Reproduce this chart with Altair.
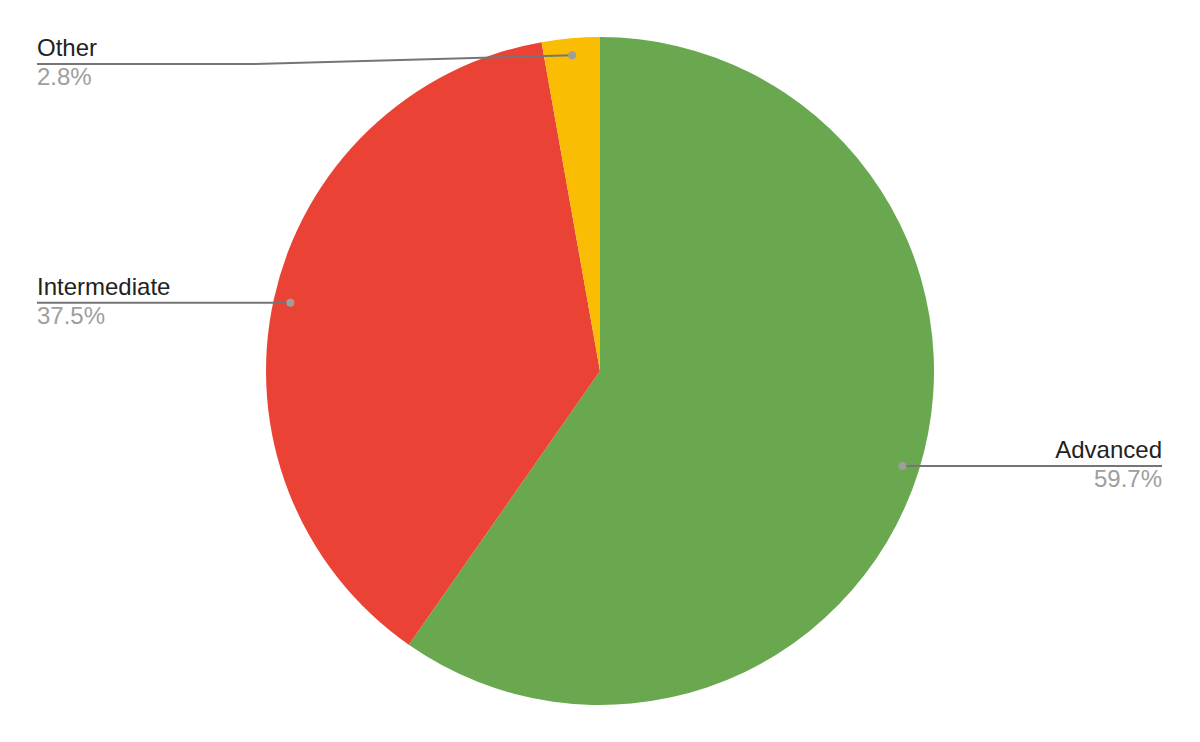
import math
import altair as alt
import pandas as pd

categories = ["Advanced", "Intermediate", "Other"]
values = [59.7, 37.5, 2.8]
colors = ["#6aa84f", "#ea4335", "#fbbc04"]
pct_labels = ["59.7%", "37.5%", "2.8%"]

W, H = 1184, 726
CX, CY = W / 2, H / 2
R = 334
DOT_R = 317
LEFT_X, RIGHT_X = 29, 1154
LEFT_ELBOW, RIGHT_ELBOW = 247, 900
MIN_LABEL_Y = 56

total = sum(values)
rows, line_rows = [], []
cum = 0.0
for i, (c, v, p) in enumerate(zip(categories, values, pct_labels)):
    mid = (cum + v / 2) / total * 2 * math.pi
    cum += v
    dx, dy = CX + DOT_R * math.sin(mid), CY - DOT_R * math.cos(mid)
    right = math.sin(mid) > 0
    ly = max(dy, MIN_LABEL_Y)
    lx = RIGHT_X if right else LEFT_X
    ex = RIGHT_ELBOW if right else LEFT_ELBOW
    ex = max(ex, dx) if right else min(ex, dx)
    rows.append(dict(cat=c, value=v, order=i, pct=p, dot_x=dx, dot_y=dy,
                     lx=lx, ly=ly, side="right" if right else "left"))
    for k, (px, py) in enumerate([(lx, ly), (ex, ly), (dx, dy)]):
        line_rows.append(dict(cat=c, k=k, x=px, y=py))

df = pd.DataFrame(rows)
ldf = pd.DataFrame(line_rows)

xs = alt.Scale(domain=[0, W], range=[0, W])
ys = alt.Scale(domain=[0, H], range=[0, H])

pie = alt.Chart(df).mark_arc(outerRadius=R).encode(
    theta=alt.Theta("value:Q", stack=True),
    color=alt.Color("cat:N", scale=alt.Scale(domain=categories, range=colors), legend=None),
    order=alt.Order("order:Q"),
)

lines = alt.Chart(ldf).mark_line(color="#757575", strokeWidth=2).encode(
    x=alt.X("x:Q", scale=xs, axis=None),
    y=alt.Y("y:Q", scale=ys, axis=None),
    detail="cat:N",
    order="k:Q",
)

dots = alt.Chart(df).mark_circle(size=64, color="#9e9e9e", opacity=1).encode(
    x=alt.X("dot_x:Q", scale=xs, axis=None),
    y=alt.Y("dot_y:Q", scale=ys, axis=None),
)

def labels(side, align):
    base = alt.Chart(df).transform_filter(alt.datum.side == side)
    name = base.mark_text(align=align, baseline="alphabetic", dy=-8, fontSize=24,
                          font="Liberation Sans", color="#222222").encode(
        x=alt.X("lx:Q", scale=xs, axis=None), y=alt.Y("ly:Q", scale=ys, axis=None), text="cat:N")
    pct = base.mark_text(align=align, baseline="alphabetic", dy=21, fontSize=24,
                         font="Liberation Sans", color="#9e9e9e").encode(
        x=alt.X("lx:Q", scale=xs, axis=None), y=alt.Y("ly:Q", scale=ys, axis=None), text="pct:N")
    return name + pct

chart = alt.layer(pie, lines, dots, labels("left", "left"), labels("right", "right")).properties(
    width=W, height=H, padding=0, autosize=alt.AutoSizeParams(type="none")
).configure_view(stroke=None)

chart.save("out.html", embed_options={"renderer": "svg", "actions": False})
